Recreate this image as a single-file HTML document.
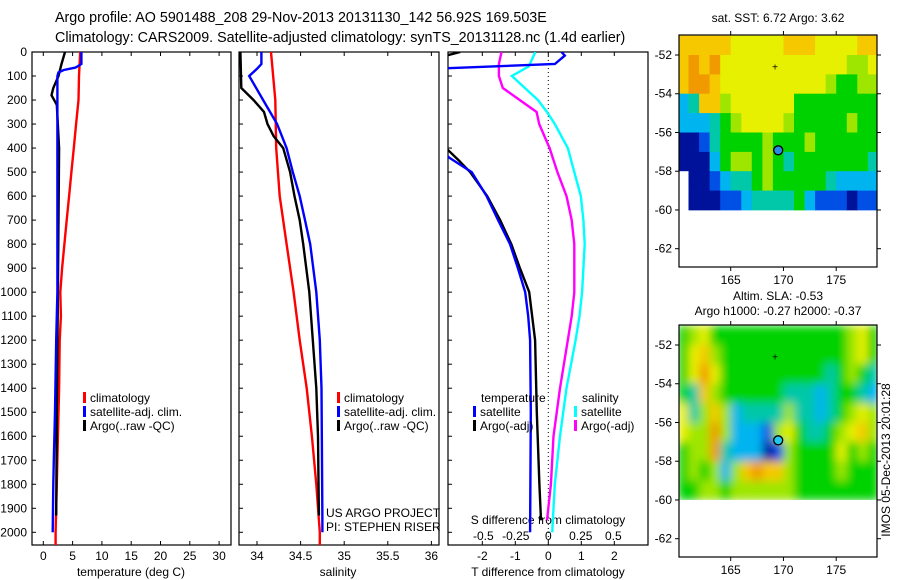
<!DOCTYPE html>
<html><head><meta charset="utf-8"><style>
html,body{margin:0;padding:0;background:#fff;}
svg{display:block;font-family:"Liberation Sans",Arial,sans-serif;}
text{fill:#000;}
</style></head><body>
<svg id="chart" width="900" height="580" viewBox="0 0 900 580">
<defs>
<clipPath id="c1"><rect x="32" y="52" width="199" height="493"/></clipPath>
<clipPath id="c2"><rect x="239" y="52" width="200" height="493"/></clipPath>
<clipPath id="c3"><rect x="448" y="52" width="200" height="493"/></clipPath>
<clipPath id="m1"><rect x="679" y="35" width="198" height="232"/></clipPath>
<clipPath id="m2"><rect x="679" y="325" width="198" height="232"/></clipPath>
<filter id="blur2" x="-5%" y="-5%" width="110%" height="110%"><feGaussianBlur stdDeviation="4.5" edgeMode="duplicate"/></filter>
</defs>
<text x="55" y="22" font-size="14.3">Argo profile: AO 5901488_208 29-Nov-2013 20131130_142 56.92S 169.503E</text>
<text x="55" y="42" font-size="14.3">Climatology: CARS2009. Satellite-adjusted climatology: synTS_20131128.nc (1.4d earlier)</text>
<g id="g1"></g>
<g id="g2"></g>
<g id="g3"></g>
<g id="gm1"></g>
<g id="gm2"></g>
<text x="778" y="22" font-size="12" text-anchor="middle">sat. SST: 6.72  Argo: 3.62</text>
<text x="778" y="300" font-size="12" text-anchor="middle">Altim. SLA: -0.53</text>
<text x="778" y="315" font-size="12" text-anchor="middle">Argo h1000: -0.27 h2000: -0.37</text>
<text transform="translate(890,460) rotate(-90)" font-size="12" text-anchor="middle">IMOS 05-Dec-2013 20:01:28</text>
<text x="326" y="517" font-size="12">US ARGO PROJECT</text>
<text x="326" y="531" font-size="12">PI: STEPHEN RISER</text>
</svg>
<script>
// ---- profile data ----
const tClimD=[0,50,100,200,300,400,500,600,700,800,900,1000,1100,1200,1400,1500,1600,1800,2000,2060];
const tClimV=[6.3,6.2,6.1,6.0,5.6,5.2,4.8,4.4,4.0,3.6,3.2,2.9,3.0,2.8,2.7,2.6,2.5,2.3,2.1,2.1];
const tSatD=[0,50,65,75,85,100,200,1000,1200,1500,1700,1800,2000];
const tSatV=[6.5,6.5,5.5,3.5,2.6,2.4,2.4,2.4,2.2,2.0,1.8,1.7,1.6];
const tArgoD=[0,50,80,100,150,180,220,400,1000,1500,1930];
const tArgoV=[3.7,3.1,2.8,2.6,1.7,1.4,2.3,2.7,2.5,2.3,2.2];
const sClimD=[0,200,400,600,800,1000,1200,1400,1600,1800,2000,2060];
const sClimV=[34.16,34.21,34.22,34.26,34.34,34.42,34.49,34.57,34.63,34.68,34.72,34.72];
const sSatD=[0,50,70,100,200,300,400,500,600,700,800,1000,1200,1400,1950,2000];
const sSatV=[34.05,34.05,34.0,33.91,34.07,34.23,34.34,34.41,34.49,34.55,34.61,34.68,34.72,34.74,34.75,34.75];
const sArgoD=[0,150,200,250,300,350,400,500,600,700,800,1000,1200,1400,1600,1930];
const sArgoV=[33.81,33.82,33.96,34.08,34.12,34.19,34.30,34.38,34.43,34.49,34.53,34.60,34.64,34.68,34.70,34.71];
const dtSatD=[0,15,50,70,80,400,440,500,600,700,800,900,1000,1100,1200,1500,2000];
const dtSatV=[0.4,0.5,0.2,-3.5,-3.3,-3.3,-3.0,-2.32,-1.87,-1.52,-1.16,-0.92,-0.7,-0.61,-0.55,-0.53,-0.55];
const dtArgoD=[0,15,30,400,450,500,600,700,800,900,1000,1200,1500,1800,1950];
const dtArgoV=[-2.67,-3.1,-3.3,-3.1,-2.72,-2.37,-1.85,-1.46,-1.12,-0.86,-0.58,-0.4,-0.35,-0.27,-0.22];
const dsSatD=[0,60,100,150,200,250,300,400,500,600,700,800,1000,1100,1200,1400,1600,1800,2000];
const dsSatV=[-0.1,-0.15,-0.28,-0.18,-0.08,-0.01,0.05,0.15,0.2,0.25,0.27,0.28,0.26,0.24,0.21,0.14,0.09,0.05,0.03];
const dsArgoD=[0,50,100,150,200,250,300,350,400,500,600,700,800,1000,1100,1200,1400,1600,1800,1950];
const dsArgoV=[-0.36,-0.38,-0.38,-0.35,-0.22,-0.09,-0.07,-0.03,0.01,0.07,0.14,0.18,0.2,0.2,0.18,0.15,0.09,0.04,0.02,-0.01];
const depthTicks=[0,100,200,300,400,500,600,700,800,900,1000,1100,1200,1300,1400,1500,1600,1700,1800,1900,2000];
const tempTicks=[0,5,10,15,20,25,30];
const salTicks=[34,34.5,35,35.5,36];
const dtTicks=[-2,-1,0,1,2];
const dsTicks=[-0.5,-0.25,0,0.25,0.5];
const dsTickLabels=["-0.5","-0.25","0","0.25","0.5"];
// ---- map data (1-degree cells, lon 160..179, lat -51..-60) ----
const mapLon0=160, mapLat0=-51;
const sstRows=[
"OOOOOYYYYYOOOYYYYOO",
"ORORYYYYYYYYYYYYLLY",
"ORROYYYYYYYYYYLGGLL",
"CTOOLYYYYYYGGGGGGGG",
"CCCTGLYYYYLGGGGGLGG",
"NNBTGGGGLGGGLGGGGGG",
"NNNCGLLGLGTGGGGGGGT",
"WNNBCTTGLGGGGGTCCCC",
"WNNNBBCTTTTGCBBBNBB"];
const slaRows=[
"GLYGGGGGGGGGGGGGLYG",
"GYOLGGGGGGGGGGGGLYG",
"GYRYGGGGGGGGGGTGLGT",
"GTOLGGGGGGTTTCTGGTC",
"YTLOLCTTTTLTTCTGLYL",
"YLLRLCCCBLYGTTGLYOL",
"GLLRTCCCNBLGGGGYGLG",
"GLGLCLOROOLGGGGLGGG",
"GGLLGLLLLLLGGGGGGGG"];
const argoLon=169.503, argoLat=-56.92;
const floatLon=169.2, floatLat=-52.6;
const lonTicks=[165,170,175];
const latTicks=[-52,-54,-56,-58,-60,-62];
</script>
<script>
const NS="http://www.w3.org/2000/svg";
function mk(parent,tag,attrs){const e=document.createElementNS(NS,tag);for(const k in attrs)e.setAttribute(k,attrs[k]);parent.appendChild(e);return e;}
const yD=d=>52+d*0.24015;
const xT=t=>43.3+t*5.86;
const xS=s=>257+(s-34)*87.2;
const xDT=t=>548.3+t*33;
const xDS=s=>548.3+s*130;
function frame(g,x0,x1,name){
  const r=mk(g,'rect',{x:x0,y:52,width:x1-x0,height:493,fill:'none',stroke:'#000','stroke-width':1.2});
  
  depthTicks.forEach(d=>{const t=mk(g,'line',{x1:x0,x2:x0+4,y1:yD(d),y2:yD(d),stroke:'#000'});
    });
}
function xticks(g,vals,labels,fx,ly,name){
  vals.forEach((v,i)=>{const x=fx(v);
    const a=mk(g,'line',{x1:x,x2:x,y1:545,y2:541,stroke:'#000'});
    const b=mk(g,'line',{x1:x,x2:x,y1:52,y2:56,stroke:'#000'});
    const t=mk(g,'text',{x:x,y:ly,'font-size':12,'text-anchor':'middle'});t.textContent=labels[i];
    });
}
function line(g,D,V,fx,col,clip,name,w){
  const p=mk(g,'polyline',{points:D.map((d,i)=>fx(V[i]).toFixed(1)+','+yD(d).toFixed(1)).join(' '),fill:'none',stroke:col,'stroke-width':w||2.4,'clip-path':'url(#'+clip+')'});
  
}
function legend(g,x,y,items){
  items.forEach((it,i)=>{const yy=y+i*14;
    const b=mk(g,'rect',{x:x,y:yy-10,width:3,height:11,fill:it[0]});
    const t=mk(g,'text',{x:x+7,y:yy,'font-size':12});t.textContent=it[1];});
}
// panel 1
const g1=document.getElementById('g1');
frame(g1,32,231,'temperature');
depthTicks.forEach(d=>{const t=mk(g1,'text',{x:27,y:yD(d)+4,'font-size':12,'text-anchor':'end'});t.textContent=d;
  });
xticks(g1,tempTicks,tempTicks.map(String),xT,560,'temperature');
let at=mk(g1,'text',{x:131,y:576,'font-size':12,'text-anchor':'middle'});at.textContent='temperature (deg C)';

line(g1,tClimD,tClimV,xT,'#f00','c1','temp-climatology-line');
line(g1,tArgoD,tArgoV,xT,'#000','c1','temp-argo-line');
line(g1,tSatD,tSatV,xT,'#00f','c1','temp-satellite-line');
legend(g1,83,402,[['#f00','climatology'],['#00f','satellite-adj. clim.'],['#000','Argo(..raw -QC)']]);
// panel 2
const g2=document.getElementById('g2');
frame(g2,239,439,'salinity');
xticks(g2,salTicks,['34','34.5','35','35.5','36'],xS,560,'salinity');
at=mk(g2,'text',{x:338,y:576,'font-size':12,'text-anchor':'middle'});at.textContent='salinity';

line(g2,sClimD,sClimV,xS,'#f00','c2','sal-climatology-line');
line(g2,sArgoD,sArgoV,xS,'#000','c2','sal-argo-line');
line(g2,sSatD,sSatV,xS,'#00f','c2','sal-satellite-line');
legend(g2,337,402,[['#f00','climatology'],['#00f','satellite-adj. clim.'],['#000','Argo(..raw -QC)']]);
// panel 3
const g3=document.getElementById('g3');
frame(g3,448,648,'difference');
xticks(g3,dtTicks,dtTicks.map(String),xDT,560,'t-difference');
dsTicks.forEach((v,i)=>{const t=mk(g3,'text',{x:xDS(v),y:540,'font-size':12,'text-anchor':'middle'});t.textContent=dsTickLabels[i];
  });
at=mk(g3,'text',{x:548,y:576,'font-size':12,'text-anchor':'middle'});at.textContent='T difference from climatology';

at=mk(g3,'text',{x:548,y:524,'font-size':12,'text-anchor':'middle'});at.textContent='S difference from climatology';

let zl=mk(g3,'line',{x1:xDT(0),x2:xDT(0),y1:52,y2:545,stroke:'#000','stroke-dasharray':'1,3'});

line(g3,dsSatD,dsSatV,xDS,'#0ff','c3','s-diff-satellite-line');
line(g3,dsArgoD,dsArgoV,xDS,'#f0f','c3','s-diff-argo-line');
line(g3,dtArgoD,dtArgoV,xDT,'#000','c3','t-diff-argo-line');
line(g3,dtSatD,dtSatV,xDT,'#00f','c3','t-diff-satellite-line');
at=mk(g3,'text',{x:481,y:402,'font-size':12});at.textContent='temperature';
at=mk(g3,'text',{x:582,y:402,'font-size':12});at.textContent='salinity';
legend(g3,473,416,[['#00f','satellite'],['#000','Argo(-adj)']]);
legend(g3,574,416,[['#0ff','satellite'],['#f0f','Argo(-adj)']]);
// maps
const pal={N:'#00129a',B:'#0050e6',C:'#00b4f0',T:'#00c8a8',G:'#00d200',L:'#9ee600',Y:'#e6f000',O:'#f5c800',R:'#f09a00',D:'#c80000',W:'#ffffff'};
function drawMap(id,rows,off,clip,dotCol,name,blur){
  const g=document.getElementById(id);
  const xL=l=>730.7+(l-165)*10.55, yL=p=>55+off+(-52-p)*19.37;
  const outer=mk(g,'g',{'clip-path':'url(#'+clip+')'});
  const cg=blur?mk(outer,'g',{filter:'url(#blur2)'}):outer;
  rows.forEach((row,r)=>{for(let c=0;c<row.length;c++){
    const x0=xL(mapLon0+c),y0=yL(mapLat0-r);
    const cell=mk(cg,'rect',{x:x0.toFixed(1),y:y0.toFixed(1),width:(10.55+0.4).toFixed(2),height:(19.37+0.4).toFixed(2),fill:pal[row[c]]});
    }});
  if(blur){const wb=mk(outer,'rect',{x:679,y:yL(-60),width:198,height:60,fill:'#fff'});
    }
  const fx=mk(g,'text',{x:xL(floatLon),y:yL(floatLat)+4,'font-size':10,'text-anchor':'middle'});fx.textContent='+';
  
  const dot=mk(g,'circle',{cx:xL(argoLon),cy:yL(argoLat),r:4.5,fill:dotCol,stroke:'#000','stroke-width':1.3});
  
  const f=mk(g,'rect',{x:679,y:35+off,width:198,height:232,fill:'none',stroke:'#000','stroke-width':1.2});
  
  lonTicks.forEach(l=>{const x=xL(l);
    mk(g,'line',{x1:x,x2:x,y1:35+off,y2:31+off,stroke:'#000'});
    mk(g,'line',{x1:x,x2:x,y1:267+off,y2:271+off,stroke:'#000'});
    const t=mk(g,'text',{x:x,y:284+off,'font-size':12,'text-anchor':'middle'});t.textContent=l;
    });
  latTicks.forEach(p=>{const y=yL(p);
    mk(g,'line',{x1:679,x2:675,y1:y,y2:y,stroke:'#000'});
    mk(g,'line',{x1:877,x2:881,y1:y,y2:y,stroke:'#000'});
    const t=mk(g,'text',{x:672,y:y+4,'font-size':12,'text-anchor':'end'});t.textContent=p;
    });
}
drawMap('gm1',sstRows,0,'m1','#2a8ae6','sst-map',false);
drawMap('gm2',slaRows,290,'m2','#20c8f0','sla-map',true);
</script>
</body></html>
